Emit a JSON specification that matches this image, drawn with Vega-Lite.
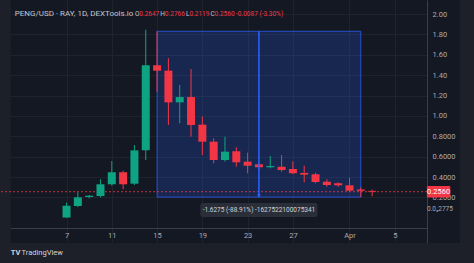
{
  "$schema": "https://vega.github.io/schema/vega-lite/v6.json",
  "width": 427,
  "height": 243,
  "autosize": {"type": "none"},
  "padding": {"left": 0, "top": 0, "right": 47, "bottom": 20},
  "background": "#141823",
  "config": {
    "view": {"stroke": null},
    "font": "Roboto",
    "axis": {"labelOverlap": false, "labelFlush": false}
  },
  "data": {
    "values": [
      {"date": "2024-03-07", "open": 0.003, "high": 0.148, "low": 0.000002775, "close": 0.119},
      {"date": "2024-03-08", "open": 0.116, "high": 0.250, "low": 0.106, "close": 0.201},
      {"date": "2024-03-09", "open": 0.204, "high": 0.224, "low": 0.191, "close": 0.217},
      {"date": "2024-03-10", "open": 0.214, "high": 0.378, "low": 0.201, "close": 0.329},
      {"date": "2024-03-11", "open": 0.329, "high": 0.557, "low": 0.315, "close": 0.447},
      {"date": "2024-03-12", "open": 0.447, "high": 0.462, "low": 0.280, "close": 0.329},
      {"date": "2024-03-13", "open": 0.335, "high": 0.714, "low": 0.322, "close": 0.662},
      {"date": "2024-03-14", "open": 0.662, "high": 1.845, "low": 0.567, "close": 1.497},
      {"date": "2024-03-15", "open": 1.497, "high": 1.8305, "low": 1.237, "close": 1.444},
      {"date": "2024-03-16", "open": 1.444, "high": 1.565, "low": 0.911, "close": 1.133},
      {"date": "2024-03-17", "open": 1.133, "high": 1.303, "low": 0.927, "close": 1.185},
      {"date": "2024-03-18", "open": 1.185, "high": 1.460, "low": 0.796, "close": 0.911},
      {"date": "2024-03-19", "open": 0.914, "high": 0.994, "low": 0.616, "close": 0.747},
      {"date": "2024-03-20", "open": 0.747, "high": 0.780, "low": 0.535, "close": 0.567},
      {"date": "2024-03-21", "open": 0.567, "high": 0.796, "low": 0.551, "close": 0.649},
      {"date": "2024-03-22", "open": 0.653, "high": 0.692, "low": 0.501, "close": 0.545},
      {"date": "2024-03-23", "open": 0.551, "high": 0.639, "low": 0.437, "close": 0.511},
      {"date": "2024-03-24", "open": 0.525, "high": 0.535, "low": 0.476, "close": 0.496},
      {"date": "2024-03-25", "open": 0.496, "high": 0.606, "low": 0.486, "close": 0.508},
      {"date": "2024-03-26", "open": 0.501, "high": 0.616, "low": 0.452, "close": 0.469},
      {"date": "2024-03-27", "open": 0.479, "high": 0.553, "low": 0.430, "close": 0.437},
      {"date": "2024-03-28", "open": 0.440, "high": 0.511, "low": 0.348, "close": 0.423},
      {"date": "2024-03-29", "open": 0.427, "high": 0.443, "low": 0.339, "close": 0.351},
      {"date": "2024-03-30", "open": 0.354, "high": 0.378, "low": 0.305, "close": 0.322},
      {"date": "2024-03-31", "open": 0.339, "high": 0.348, "low": 0.305, "close": 0.319},
      {"date": "2024-04-01", "open": 0.319, "high": 0.394, "low": 0.256, "close": 0.266},
      {"date": "2024-04-02", "open": 0.278, "high": 0.299, "low": 0.203, "close": 0.2647},
      {"date": "2024-04-03", "open": 0.2647, "high": 0.2766, "low": 0.2119, "close": 0.2560}
    ]
  },
  "layer": [
    {
      "data": {"values": [{}]},
      "mark": {"type": "rect", "color": "#1d2029"},
      "encoding": {
        "x": {"datum": 1708732800000, "type": "temporal"},
        "x2": {"datum": 1709344684800},
        "y": {"datum": 2.6},
        "y2": {"datum": -0.8}
      }
    },
    {
      "data": {"values": [{}]},
      "mark": {"type": "rect", "color": "#1d2029"},
      "encoding": {
        "x": {"datum": 1712773814400, "type": "temporal"},
        "x2": {"datum": 1713052800000},
        "y": {"datum": 2.6},
        "y2": {"datum": -0.8}
      }
    },
    {
      "data": {"values": [{}]},
      "mark": {"type": "rect", "color": "#1d2029"},
      "encoding": {
        "x": {"datum": 1708732800000, "type": "temporal"},
        "x2": {"datum": 1713052800000},
        "y": {"datum": -0.2473},
        "y2": {"datum": -0.8}
      }
    },
    {
      "data": {"values": [{}]},
      "mark": {"type": "rect", "fill": "#2962ff", "fillOpacity": 0.2, "stroke": "#2962ff", "strokeOpacity": 0.75, "strokeWidth": 1},
      "encoding": {
        "x": {"datum": 1710460800000, "type": "temporal"},
        "x2": {"datum": 1712016000000},
        "y": {"datum": 1.8305},
        "y2": {"datum": 0.203}
      }
    },
    {
      "data": {"values": [{}]},
      "mark": {"type": "rule", "color": "#f23645", "strokeWidth": 1, "strokeDash": [2, 2], "opacity": 0.8},
      "encoding": {"y": {"datum": 0.256}}
    },
    {
      "mark": {"type": "rule", "strokeWidth": 1},
      "encoding": {
        "x": {
          "field": "date", "type": "temporal", "title": null,
          "scale": {"type": "utc", "nice": false, "domain": [1709299956000, 1712483078400]},
          "axis": {
            "orient": "bottom", "offset": -15, "tickCount": 30,
            "values": [1709769600000, 1710115200000, 1710460800000, 1710806400000, 1711152000000, 1711497600000, 1711929600000, 1712275200000],
            "labelExpr": "utcdate(datum.value) == 1 ? 'Apr' : '' + utcdate(datum.value)",
            "labelFont": "Roboto", "labelFontSize": 7.5, "labelColor": "#a9acb5",
            "labelPadding": 3, "ticks": false, "domainColor": "#3a3e4a", "domainWidth": 1,
            "grid": true, "gridColor": "#1f232e", "gridWidth": 1,
            "labelOverlap": false, "labelFlush": false
          }
        },
        "y": {
          "field": "low", "type": "quantitative", "title": null,
          "scale": {"domain": [-0.2473, 2.1374], "nice": false, "zero": false},
          "axis": {
            "orient": "right", "tickCount": 30,
            "values": [0.2, 0.4, 0.6, 0.8, 1.0, 1.2, 1.4, 1.6, 1.8, 2.0],
            "labelExpr": "datum.value >= 0.999 ? format(datum.value, '.2f') : format(datum.value, '.4f')",
            "labelFont": "Roboto", "labelColor": "#a9acb5", "labelFontSize": 7.5,
            "labelPadding": 5, "ticks": false, "domainColor": "#3a3e4a", "domainWidth": 1,
            "grid": true, "gridWidth": 1, "gridColor": "#1f232e",
            "labelOverlap": false, "labelFlush": false
          }
        },
        "y2": {"field": "high"},
        "color": {"condition": {"test": "datum.close >= datum.open", "value": "#0ea382"}, "value": "#f23645"}
      }
    },
    {
      "mark": {"type": "bar", "size": 8},
      "encoding": {
        "x": {"field": "date", "type": "temporal", "title": null},
        "y": {"field": "open", "type": "quantitative", "title": null},
        "y2": {"field": "close"},
        "color": {"condition": {"test": "datum.close >= datum.open", "value": "#0ea382"}, "value": "#f23645"}
      }
    },
    {
      "data": {"values": [{}]},
      "mark": {"type": "rule", "color": "#2962ff", "strokeWidth": 1.5},
      "encoding": {
        "x": {"datum": 1711238400000, "type": "temporal"},
        "y": {"datum": 1.8305},
        "y2": {"datum": 0.203}
      }
    },
    {
      "data": {"values": [{}]},
      "mark": {"type": "point", "shape": "triangle-down", "filled": true, "color": "#2962ff", "size": 14, "opacity": 1},
      "encoding": {
        "x": {"datum": 1711238400000, "type": "temporal"},
        "y": {"datum": 0.215}
      }
    },
    {
      "data": {"values": [{}]},
      "mark": {"type": "rect", "color": "#2a2e39", "cornerRadius": 2},
      "encoding": {
        "x": {"datum": 1710791712000, "type": "temporal"},
        "x2": {"datum": 1711685088000},
        "y": {"datum": 0.145},
        "y2": {"datum": 0.008}
      }
    },
    {
      "data": {"values": [{}]},
      "mark": {"type": "text", "text": "-1.6275 (-88.91%) -1627522100075341", "font": "Roboto", "fontSize": 6.5, "color": "#d1d4dc", "align": "center", "baseline": "middle"},
      "encoding": {
        "x": {"datum": 1711238400000, "type": "temporal"},
        "y": {"datum": 0.0765}
      }
    },
    {
      "data": {"values": [{}]},
      "mark": {"type": "text", "text": "0.0₅2775", "font": "Roboto", "fontSize": 6.5, "color": "#a9acb5", "align": "left", "baseline": "middle"},
      "encoding": {
        "x": {"datum": 1712520403200, "type": "temporal"},
        "y": {"datum": 0.088}
      }
    },
    {
      "data": {"values": [{}]},
      "mark": {"type": "rect", "color": "#f23645", "cornerRadius": 1},
      "encoding": {
        "x": {"datum": 1712520403200, "type": "temporal"},
        "x2": {"datum": 1712699337600},
        "y": {"datum": 0.312},
        "y2": {"datum": 0.199}
      }
    },
    {
      "data": {"values": [{}]},
      "mark": {"type": "text", "text": "0.2560", "font": "Roboto", "fontSize": 7.5, "color": "#ffffff", "align": "center", "baseline": "middle"},
      "encoding": {
        "x": {"datum": 1712609827200, "type": "temporal"},
        "y": {"datum": 0.256}
      }
    },
    {
      "data": {"values": [{}]},
      "mark": {"type": "text", "text": "PENG/USD · RAY, 1D, DEXTools.io", "font": "Roboto", "fontSize": 8, "color": "#c3c6ce", "align": "left", "baseline": "middle"},
      "encoding": {
        "x": {"datum": 1709374492800, "type": "temporal"},
        "y": {"datum": 2.0}
      }
    },
    {
      "data": {"values": [{}]},
      "mark": {"type": "text", "text": "O", "font": "Roboto", "fontSize": 6.5, "color": "#c3c6ce", "align": "left", "baseline": "middle"},
      "encoding": {
        "x": {"datum": 1710291456000, "type": "temporal"},
        "y": {"datum": 2.0}
      }
    },
    {
      "data": {"values": [{}]},
      "mark": {"type": "text", "text": "0.2647", "font": "Roboto", "fontSize": 6.5, "color": "#f23645", "align": "left", "baseline": "middle"},
      "encoding": {
        "x": {"datum": 1710324979200, "type": "temporal"},
        "y": {"datum": 2.0}
      }
    },
    {
      "data": {"values": [{}]},
      "mark": {"type": "text", "text": "H", "font": "Roboto", "fontSize": 6.5, "color": "#c3c6ce", "align": "left", "baseline": "middle"},
      "encoding": {
        "x": {"datum": 1710485251200, "type": "temporal"},
        "y": {"datum": 2.0}
      }
    },
    {
      "data": {"values": [{}]},
      "mark": {"type": "text", "text": "0.2766", "font": "Roboto", "fontSize": 6.5, "color": "#f23645", "align": "left", "baseline": "middle"},
      "encoding": {
        "x": {"datum": 1710520329600, "type": "temporal"},
        "y": {"datum": 2.0}
      }
    },
    {
      "data": {"values": [{}]},
      "mark": {"type": "text", "text": "L", "font": "Roboto", "fontSize": 6.5, "color": "#c3c6ce", "align": "left", "baseline": "middle"},
      "encoding": {
        "x": {"datum": 1710681292800, "type": "temporal"},
        "y": {"datum": 2.0}
      }
    },
    {
      "data": {"values": [{}]},
      "mark": {"type": "text", "text": "0.2119", "font": "Roboto", "fontSize": 6.5, "color": "#f23645", "align": "left", "baseline": "middle"},
      "encoding": {
        "x": {"datum": 1710707385600, "type": "temporal"},
        "y": {"datum": 2.0}
      }
    },
    {
      "data": {"values": [{}]},
      "mark": {"type": "text", "text": "C", "font": "Roboto", "fontSize": 6.5, "color": "#c3c6ce", "align": "left", "baseline": "middle"},
      "encoding": {
        "x": {"datum": 1710868435200, "type": "temporal"},
        "y": {"datum": 2.0}
      }
    },
    {
      "data": {"values": [{}]},
      "mark": {"type": "text", "text": "0.2560", "font": "Roboto", "fontSize": 6.5, "color": "#f23645", "align": "left", "baseline": "middle"},
      "encoding": {
        "x": {"datum": 1710899712000, "type": "temporal"},
        "y": {"datum": 2.0}
      }
    },
    {
      "data": {"values": [{}]},
      "mark": {"type": "text", "text": "-0.0087 (-3.30%)", "font": "Roboto", "fontSize": 6.5, "color": "#f23645", "align": "left", "baseline": "middle"},
      "encoding": {
        "x": {"datum": 1711063584000, "type": "temporal"},
        "y": {"datum": 2.0}
      }
    },
    {
      "data": {"values": [{}]},
      "mark": {"type": "text", "text": "TV", "font": "Roboto", "fontSize": 7.5, "fontWeight": "bold", "color": "#d1d4dc", "align": "left", "baseline": "middle"},
      "encoding": {
        "x": {"datum": 1709344684800, "type": "temporal"},
        "y": {"datum": -0.345}
      }
    },
    {
      "data": {"values": [{}]},
      "mark": {"type": "text", "text": "TradingView", "font": "Roboto", "fontSize": 7.5, "color": "#d1d4dc", "align": "left", "baseline": "middle"},
      "encoding": {
        "x": {"datum": 1709426678400, "type": "temporal"},
        "y": {"datum": -0.345}
      }
    }
  ]
}
